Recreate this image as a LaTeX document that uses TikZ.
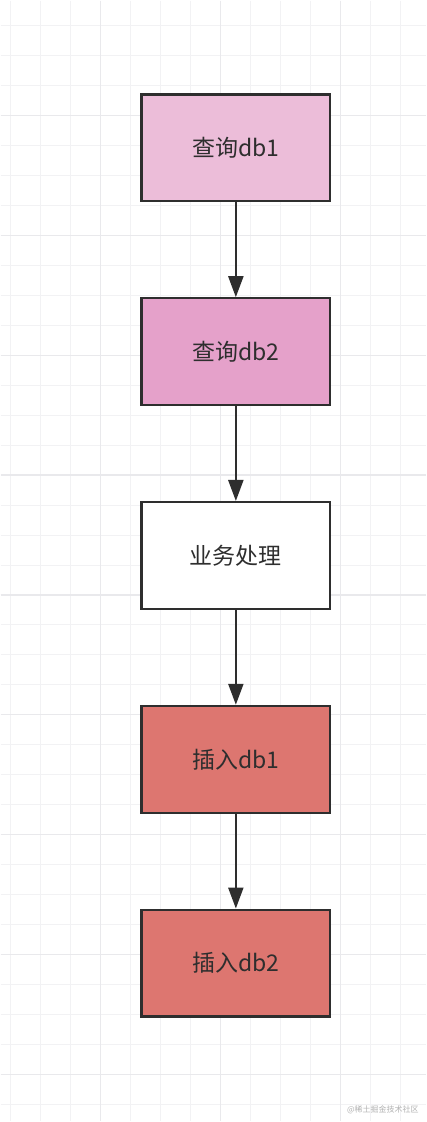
\documentclass[tikz,border=0pt]{standalone}
\usepackage{fontspec}
\setmainfont{Noto Sans CJK SC}
\usepackage{tikz}
\usetikzlibrary{positioning,arrows.meta}
\definecolor{inkc}{HTML}{2E2E2E}
\definecolor{pinkL}{HTML}{ECBDD9}
\definecolor{pinkM}{HTML}{E5A1CA}
\definecolor{redc}{HTML}{DD7670}
\definecolor{gridL}{HTML}{F2F2F4}
\definecolor{gridD}{HTML}{E9E9EC}
\tikzset{
  arr/.style={-{Triangle[length=21pt,width=15pt]}, line width=2.2pt, color=inkc},
  stepbox/.style={draw=inkc, line width=2.2pt, minimum width=189pt, minimum height=107pt,
                  font=\fontsize{23pt}{26pt}\selectfont, text=inkc, align=center},
}
\begin{document}
\begin{tikzpicture}[x=1pt, y=1pt, node distance=94.8pt]
  % background grid
  \fill[white] (0,0) rectangle (426,-1122);
  \foreach \x in {10,40,...,426} \draw[gridL, line width=1pt] (\x,0) -- (\x,-1122);
  \foreach \y in {25,55,...,1122} \draw[gridL, line width=1pt] (0,-\y) -- (426,-\y);
  \foreach \x in {100,220,340} \draw[gridD, line width=1.2pt] (\x,0) -- (\x,-1122);
  \foreach \y in {115,235,...,1122} \draw[gridD, line width=1.2pt] (0,-\y) -- (426,-\y);
  \useasboundingbox (0,0) rectangle (426,-1122);

  \node[stepbox, fill=pinkL] (q1) at (235.5,-147.5) {查询db1};
  \node[stepbox, fill=pinkM, below=of q1] (q2) {查询db2};
  \node[stepbox, fill=white, below=of q2] (biz) {业务处理};
  \node[stepbox, fill=redc,  below=of biz] (in1) {插入db1};
  \node[stepbox, fill=redc,  below=of in1] (in2) {插入db2};
  \foreach \a/\b in {q1/q2, q2/biz, biz/in1, in1/in2} \draw[arr] (\a) -- (\b);

  \node[anchor=south east, font=\fontsize{8pt}{9pt}\selectfont, text=black!30] (wm)
        at (422,-1118) {@稀土掘金技术社区};
\end{tikzpicture}
\end{document}
